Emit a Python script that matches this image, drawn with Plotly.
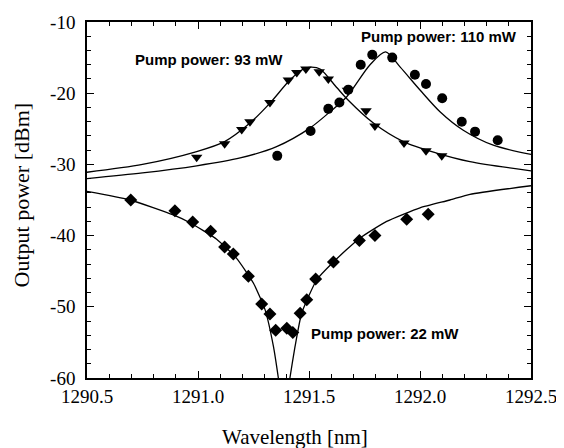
import plotly.graph_objects as go

# ---- data ----
tri_x = [1290.994, 1291.12, 1291.197, 1291.234, 1291.324, 1291.407, 1291.445, 1291.486,
         1291.546, 1291.587, 1291.673, 1291.757, 1291.797, 1291.928, 1292.027, 1292.098]
tri_y = [-29.0, -27.1, -25.1, -24.0, -21.3, -18.15, -17.1, -16.6,
         -17.0, -18.0, -19.6, -22.45, -24.6, -27.0, -28.1, -28.8]

cir_x = [1291.357, 1291.507, 1291.587, 1291.637, 1291.677, 1291.733, 1291.785, 1291.875,
         1291.977, 1292.027, 1292.10, 1292.188, 1292.248, 1292.35]
cir_y = [-28.8, -25.3, -22.2, -21.3, -19.5, -16.0, -14.6, -15.0,
         -17.4, -18.7, -20.7, -24.0, -25.4, -26.6]

dia_x = [1290.697, 1290.896, 1290.976, 1291.057, 1291.12, 1291.159, 1291.227, 1291.287,
         1291.324, 1291.35, 1291.40, 1291.427, 1291.46, 1291.49, 1291.53, 1291.61,
         1291.727, 1291.797, 1291.94, 1292.037]
dia_y = [-35.0, -36.5, -38.1, -39.4, -41.6, -42.6, -45.7, -49.6,
         -51.0, -53.3, -53.0, -53.6, -50.9, -49.0, -46.1, -43.7,
         -40.7, -40.0, -37.7, -37.0]

fit93_x = [1290.5, 1290.75, 1290.994, 1291.12, 1291.234, 1291.324, 1291.414, 1291.474, 1291.512,
           1291.55, 1291.625, 1291.677, 1291.79, 1291.925, 1292.075, 1292.225, 1292.5]
fit93_y = [-31.1, -30.0, -28.2, -26.8, -24.2, -21.4, -18.15, -16.6, -16.35,
           -16.6, -19.2, -21.0, -24.2, -26.8, -28.4, -29.6, -30.9]

fit110_x = [1290.5, 1290.75, 1290.994, 1291.19, 1291.354, 1291.504, 1291.595, 1291.67, 1291.775,
            1291.845, 1291.91, 1292.0, 1292.09, 1292.195, 1292.33, 1292.5]
fit110_y = [-32.0, -31.2, -30.2, -29.1, -27.5, -24.9, -22.6, -20.5, -16.0,
            -14.2, -16.3, -19.55, -22.6, -25.2, -27.3, -28.6]

fit22_x = [1290.5, 1290.694, 1290.889, 1290.964, 1291.084, 1291.174, 1291.25, 1291.302, 1291.34,
           1291.362, 1291.375, 1291.40, 1291.414, 1291.437, 1291.467, 1291.535, 1291.61, 1291.727,
           1291.85, 1292.0, 1292.135, 1292.225, 1292.5]
fit22_y = [-33.8, -35.0, -37.1, -38.2, -40.5, -43.2, -46.7, -50.4, -55.6,
           -60.0, -63.0, -63.0, -60.0, -55.6, -50.9, -46.2, -43.7, -40.4,
           -38.0, -36.1, -35.0, -34.2, -33.0]

x_ticks = [1290.5, 1291.0, 1291.5, 1292.0, 1292.5]
x_ticklabels = ["1290.5", "1291.0", "1291.5", "1292.0", "1292.5"]
y_ticks = [-60, -50, -40, -30, -20, -10]
y_ticklabels = ["-60", "-50", "-40", "-30", "-20", "-10"]

labels = ["Pump power: 93 mW", "Pump power: 110 mW", "Pump power: 22 mW"]
label_x = [1291.05, 1292.087, 1291.843]
label_y = [-15.3, -12.1, -53.7]

fig = go.Figure()
line = dict(color="black", width=1.3, shape="spline", smoothing=0.8)
fig.add_trace(go.Scatter(x=fit93_x, y=fit93_y, mode="lines", line=line, hoverinfo="skip"))
fig.add_trace(go.Scatter(x=fit110_x, y=fit110_y, mode="lines", line=line, hoverinfo="skip"))
fig.add_trace(go.Scatter(x=fit22_x, y=fit22_y, mode="lines",
                         line=dict(color="black", width=1.3, shape="spline", smoothing=0.5),
                         hoverinfo="skip"))
fig.add_trace(go.Scatter(x=tri_x, y=tri_y, mode="markers",
                         marker=dict(symbol="triangle-down", size=10, color="black")))
fig.add_trace(go.Scatter(x=cir_x, y=cir_y, mode="markers",
                         marker=dict(symbol="circle", size=10, color="black")))
fig.add_trace(go.Scatter(x=dia_x, y=dia_y, mode="markers",
                         marker=dict(symbol="diamond", size=10, color="black")))

for t, lx, ly in zip(labels, label_x, label_y):
    fig.add_annotation(x=lx, y=ly, text="<b>" + t + "</b>", showarrow=False,
                       font=dict(family="Liberation Sans, Arial", size=15, color="black"),
                       xanchor="center", yanchor="middle")

serif = "Liberation Serif, Times New Roman, serif"
fig.add_annotation(text="Wavelength [nm]", xref="paper", yref="paper", x=0.468, y=-0.165,
                   showarrow=False, xanchor="center", yanchor="middle",
                   font=dict(family=serif, size=21, color="black"))
fig.add_annotation(text="Output power [dBm]", xref="paper", yref="paper", x=-0.147, y=0.515,
                   showarrow=False, xanchor="center", yanchor="middle", textangle=-90,
                   font=dict(family=serif, size=22, color="black"))

axis_common = dict(showgrid=False, zeroline=False, showline=True, linecolor="black", linewidth=1.5,
                   ticks="inside", ticklen=7, tickwidth=1.3, tickcolor="black", mirror="allticks",
                   automargin=False,
                   tickfont=dict(family=serif, size=19, color="black"))
fig.update_xaxes(range=[1290.5, 1292.5], tickvals=x_ticks, ticktext=x_ticklabels,
                 minor=dict(dtick=0.1, ticks="inside", ticklen=4, tickwidth=1.1, tickcolor="black"),
                 **axis_common)
fig.update_yaxes(range=[-60, -10], tickvals=y_ticks, ticktext=y_ticklabels,
                 minor=dict(dtick=2, ticks="inside", ticklen=4, tickwidth=1.1, tickcolor="black"),
                 ticklabelstandoff=6, **axis_common)

fig.update_layout(width=556, height=440, showlegend=False,
                  margin=dict(l=79, r=33, t=14, b=70),
                  plot_bgcolor="white", paper_bgcolor="white")

fig.write_html("out.html")
